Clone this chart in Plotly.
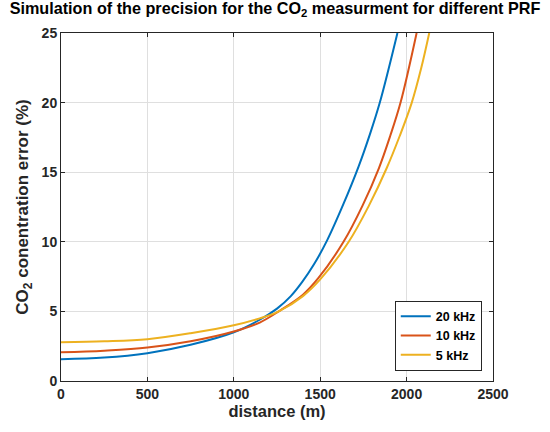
import plotly.graph_objects as go

# 20 kHz
x20 = [0, 250, 500, 750, 1000, 1150, 1250, 1330, 1395, 1465, 1540, 1634, 1722, 1787, 1845, 1947]
y20 = [1.56, 1.68, 2.0, 2.6, 3.5, 4.4, 5.2, 6.1, 7.1, 8.4, 10.1, 12.7, 15.4, 17.7, 20, 25]
# 10 kHz
x10 = [0, 250, 500, 750, 1000, 1150, 1260, 1400, 1490, 1635, 1745, 1840, 1905, 1965, 2058]
y10 = [2.06, 2.18, 2.4, 2.85, 3.55, 4.2, 5.0, 6.2, 7.4, 10, 12.6, 15.3, 17.6, 20, 25]
# 5 kHz
x5 = [0, 250, 500, 750, 1000, 1150, 1260, 1400, 1500, 1665, 1782, 1885, 1960, 2030, 2085, 2131]
y5 = [2.78, 2.85, 3.0, 3.43, 4.0, 4.5, 5.0, 6.1, 7.3, 10, 12.6, 15.3, 17.6, 20, 22.5, 25]

names = ["20 kHz", "10 kHz", "5 kHz"]
colors = ["#0072BD", "#D95319", "#EDB120"]
xticks = [0, 500, 1000, 1500, 2000, 2500]
xtick_labels = ["0", "500", "1000", "1500", "2000", "2500"]
yticks = [0, 5, 10, 15, 20, 25]
ytick_labels = ["0", "5", "10", "15", "20", "25"]

fig = go.Figure()
for xs, ys, n, c in zip([x20, x10, x5], [y20, y10, y5], names, colors):
    fig.add_trace(go.Scatter(x=xs, y=ys, mode="lines", name="<b>%s</b>" % n,
                             line=dict(color=c, width=2, shape="spline", smoothing=1.0)))

font = "Liberation Sans, Arial, sans-serif"
axis_common = dict(showgrid=True, gridcolor="#DFDFDF", gridwidth=1,
                   showline=True, linecolor="#262626", linewidth=1, mirror="ticks",
                   ticks="inside", ticklen=4, tickcolor="#262626",
                   tickfont=dict(family=font, size=14, color="#262626"),
                   zeroline=False, automargin=False)

fig.update_layout(
    width=550, height=432,
    paper_bgcolor="white", plot_bgcolor="white",
    margin=dict(l=61, r=57, t=33, b=51),
    title=dict(text="<b>Simulation of the precision for the CO<sub>2</sub> measurment for different PRF</b>",
               x=0.5, xanchor="center", y=0.995, yanchor="top", automargin=False,
               font=dict(family=font, size=16.2, color="black")),
    xaxis=dict(range=[0, 2500], tickvals=xticks,
               ticktext=["<b>%s</b>" % t for t in xtick_labels],
               title=dict(text="<b>distance (m)</b>", font=dict(family=font, size=16.5, color="#262626"), standoff=2),
               **axis_common),
    yaxis=dict(range=[0, 25], tickvals=yticks,
               ticktext=["<b>%s</b>" % t for t in ytick_labels],
               title=dict(text="<b>CO<sub>2</sub> conentration error (%)</b>", font=dict(family=font, size=17, color="#262626"), standoff=8),
               **axis_common),
    legend=dict(x=0.974, y=0.03, xanchor="right", yanchor="bottom",
                bgcolor="white", bordercolor="#262626", borderwidth=1,
                font=dict(family=font, size=12.5, color="black"),
                tracegroupgap=0, itemwidth=30),
    showlegend=True,
)

fig.write_html("out.html", config={"displayModeBar": False},
               post_script="document.body.style.margin='0';")
